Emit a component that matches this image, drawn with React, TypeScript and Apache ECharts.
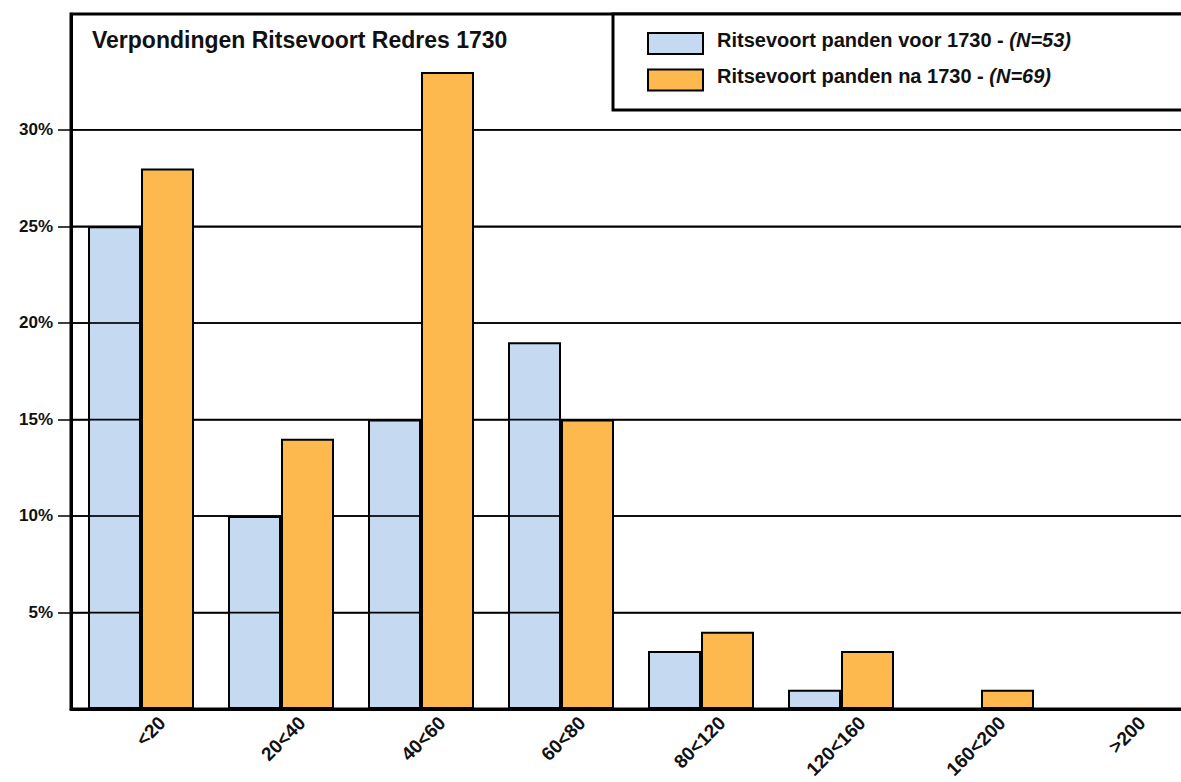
import React, { useEffect, useRef } from 'react';
import * as echarts from 'echarts';

const chartTitle = 'Verpondingen Ritsevoort Redres 1730';
const categories = ['<20', '20<40', '40<60', '60<80', '80<120', '120<160', '160<200', '>200'];
const before1730 = [25, 10, 15, 19, 3, 1, 0, 0];
const after1730 = [28, 14, 33, 15, 4, 3, 1, 0];
const seriesNames = ['Ritsevoort panden voor 1730', 'Ritsevoort panden na 1730'];
const seriesN = ['(N=53)', '(N=69)'];
const yTickValues = [5, 10, 15, 20, 25, 30];

const FONT = '"Liberation Sans", Arial, Helvetica, sans-serif';

export default function App() {
  const ref = useRef<HTMLDivElement>(null);
  useEffect(() => {
    if (!ref.current) return;
    const chart = echarts.init(ref.current, null, { renderer: 'svg' });
    chart.setOption({
      animation: false,
      backgroundColor: '#fff',
      title: {
        text: chartTitle,
        left: 87,
        top: 23,
        z: 10,
        textStyle: { fontFamily: FONT, fontSize: 23, fontWeight: 'bold', color: '#111' },
      },
      legend: {
        orient: 'vertical',
        left: 642,
        top: 24.5,
        z: 12,
        icon: 'rect',
        itemWidth: 55,
        itemHeight: 21,
        itemGap: 11,
        itemStyle: { borderColor: '#000', borderWidth: 2 },
        data: seriesNames,
        formatter: (name: string) => {
          const i = seriesNames.indexOf(name);
          return `{b|${name} - }{i|${seriesN[i]}}`;
        },
        textStyle: {
          rich: {
            b: { fontFamily: FONT, fontSize: 20, fontWeight: 'bold', color: '#111', padding: [0, 0, 8, 9] },
            i: { fontFamily: FONT, fontSize: 20, fontWeight: 'bold', fontStyle: 'italic', color: '#111', padding: [0, 0, 8, 0] },
          },
        },
      },
      graphic: [
        {
          type: 'rect',
          z: 11,
          shape: { x: 613, y: 14, width: 640, height: 96 },
          style: { fill: '#fff', stroke: '#000', lineWidth: 3 },
        },
      ],
      grid: {
        left: 71,
        top: 14,
        width: 1120,
        height: 695,
        show: true,
        outerBoundsMode: 'none',
        containLabel: false,
        borderColor: '#000',
        borderWidth: 3,
        backgroundColor: 'transparent',
      },
      xAxis: {
        type: 'category',
        data: categories,
        axisLine: { show: true, lineStyle: { color: '#000', width: 3 } },
        axisTick: { show: false },
        axisLabel: {
          rotate: 45,
          margin: 32,
          interval: 0,
          fontFamily: FONT,
          fontSize: 19,
          fontWeight: 'bold',
          color: '#111',
          padding: [0, -30, 0, 0],
        },
      },
      yAxis: {
        type: 'value',
        min: 0,
        max: 36,
        axisLine: { show: true, lineStyle: { color: '#000', width: 3 } },
        axisTick: { show: true, length: 13, customValues: yTickValues, lineStyle: { color: '#000', width: 1.5 } },
        axisLabel: {
          customValues: yTickValues,
          formatter: (v: number) => `${v}%`,
          margin: 18,
          fontFamily: FONT,
          fontSize: 17,
          fontWeight: 'bold',
          color: '#111',
        },
        splitLine: { show: true, lineStyle: { color: '#000', width: 1.5 } },
      },
      series: [
        {
          name: seriesNames[0],
          type: 'bar',
          z: 2,
          clip: false,
          data: before1730,
          barWidth: 53,
          barGap: '0%',
          itemStyle: { color: 'rgba(158,192,232,0.6)', borderColor: '#000', borderWidth: 2 },
        },
        {
          name: 'gridlines',
          type: 'custom',
          z: 3,
          clip: false,
          silent: true,
          data: yTickValues.map((v) => [0, v]),
          encode: { x: 0, y: 1 },
          renderItem: (params: any, api: any) => {
            const cs = params.coordSys;
            const y = api.coord([0, api.value(1)])[1];
            return {
              type: 'line',
              shape: { x1: cs.x, y1: y, x2: cs.x + cs.width, y2: y },
              style: { stroke: '#000', lineWidth: 1.5 },
            };
          },
        },
        {
          name: seriesNames[1],
          type: 'bar',
          z: 4,
          clip: false,
          data: after1730,
          barWidth: 53,
          itemStyle: { color: '#FDB84E', borderColor: '#000', borderWidth: 2 },
        },
      ],
    });
    return () => chart.dispose();
  }, []);
  return <div ref={ref} style={{ position: 'absolute', left: 0, top: 0, width: 1181, height: 782 }} />;
}
